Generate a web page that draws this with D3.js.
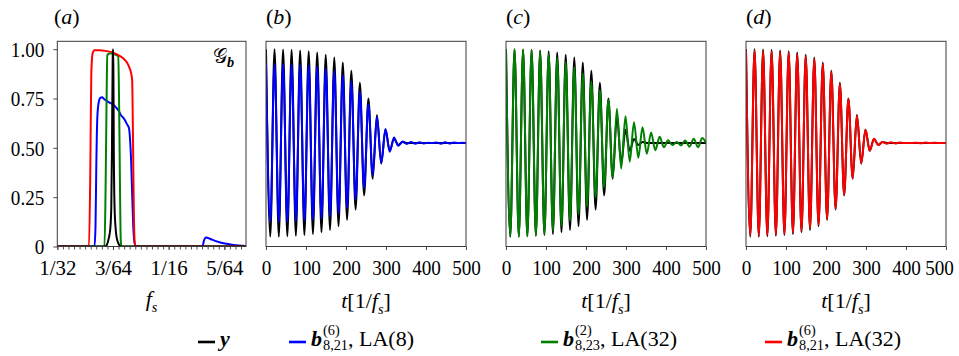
<!DOCTYPE html>
<html><head><meta charset="utf-8">
<script src="https://cdn.jsdelivr.net/npm/d3@7"></script>
<style>
body{margin:0;background:#fff}
svg{display:block}
text{font-family:"Liberation Serif","Times New Roman",serif;fill:#000}
</style>
</head><body>
<svg id="chart" width="959" height="356" font-family="Liberation Serif"></svg>
<script>
// ---------------- DATA ----------------
// Panel (a): spectra G_b vs f_s
const fsTicks = [1/32, 3/64, 1/16, 5/64];
const fsTickLabels = ["1/32", "3/64", "1/16", "5/64"];
const gTicks = [0, 0.25, 0.5, 0.75, 1.0];
const gTickLabels = ["0", "0.25", "0.50", "0.75", "1.00"];

const fRed = [0.03125, 0.04014, 0.04051, 0.04079, 0.04118, 0.04169, 0.04323, 0.04519, 0.04659, 0.04772, 0.04884, 0.04996, 0.05080, 0.05150, 0.05201, 0.05226, 0.05249, 0.05271, 0.05293, 0.05319, 0.0842];
const gRed = [0, 0, 0.38, 0.88, 0.98, 0.995, 0.995, 0.99, 0.985, 0.976, 0.965, 0.95, 0.932, 0.905, 0.875, 0.84, 0.55, 0.2, 0.03, 0, 0];

const fBlue = [0.03125, 0.04169, 0.04197, 0.04219, 0.04247, 0.04286, 0.04337, 0.04379, 0.04435, 0.04519, 0.04603, 0.04688, 0.04772, 0.04856, 0.04912, 0.04968, 0.05024, 0.05080, 0.05136, 0.05164, 0.05193, 0.05229, 0.05257, 0.05291, 0.05333, 0.07198, 0.07240, 0.07296, 0.07353, 0.07465, 0.07633, 0.07829, 0.08026, 0.08222, 0.0842];
const gBlue = [0, 0, 0.1, 0.4, 0.65, 0.73, 0.755, 0.757, 0.748, 0.737, 0.728, 0.72, 0.705, 0.685, 0.665, 0.655, 0.64, 0.62, 0.6, 0.55, 0.45, 0.25, 0.1, 0.02, 0, 0, 0.03, 0.046, 0.043, 0.035, 0.024, 0.015, 0.009, 0.005, 0.003];

const fGreen = [0.03125, 0.04449, 0.04477, 0.04505, 0.04528, 0.04603, 0.04716, 0.04836, 0.04861, 0.04884, 0.04906, 0.04926, 0.0842];
const gGreen = [0, 0, 0.25, 0.7, 0.97, 0.98, 0.975, 0.965, 0.7, 0.3, 0.03, 0, 0];

const fBlack = [0.03125, 0.04463, 0.04519, 0.04567, 0.04612, 0.04640, 0.04659, 0.04679, 0.046875, 0.04699, 0.04710, 0.04732, 0.04758, 0.04786, 0.04842, 0.04912, 0.0842];
const gBlack = [0, 0, 0.01, 0.04, 0.09, 0.2, 0.5, 0.95, 1.0, 0.9, 0.5, 0.2, 0.1, 0.05, 0.015, 0, 0];

// Panels (b)-(d): time series, local extrema
const tTicks = [0, 100, 200, 300, 400, 500];
const tExt = [0, 10.7, 21.3, 32, 42.7, 53.3, 64, 74.7, 85.3, 96, 106.7, 117.3, 128, 138.7, 149.3, 160, 170.7, 181.3, 192, 202.7, 213.3, 224, 234.7, 245.3, 256, 266.7, 277.3, 288, 298.7, 309.3, 320, 330.7, 341.3, 352, 362.7, 373.3, 384, 394.7, 405.3, 416, 426.7, 437.3, 448, 458.7, 469.3, 480, 490.7, 500];
const ySig = [1.0, 0.05, 1.0, 0.05, 0.998, 0.052, 0.997, 0.055, 0.994, 0.058, 0.99, 0.063, 0.983, 0.072, 0.972, 0.084, 0.958, 0.103, 0.933, 0.135, 0.891, 0.187, 0.83, 0.259, 0.75, 0.343, 0.667, 0.42, 0.592, 0.485, 0.545, 0.515, 0.529, 0.525, 0.525, 0.525, 0.525, 0.525, 0.525, 0.525, 0.525, 0.525, 0.525, 0.525, 0.525, 0.525, 0.525, 0.525];
const bLA8 = [0.926, 0.124, 0.926, 0.124, 0.925, 0.125, 0.924, 0.128, 0.921, 0.13, 0.918, 0.135, 0.912, 0.142, 0.903, 0.152, 0.891, 0.168, 0.87, 0.195, 0.836, 0.238, 0.786, 0.296, 0.721, 0.361, 0.657, 0.423, 0.595, 0.48, 0.553, 0.51, 0.532, 0.52, 0.529, 0.521, 0.528, 0.522, 0.526, 0.524, 0.527, 0.521, 0.528, 0.522, 0.527, 0.524, 0.526, 0.525];
const bLA32g = [1.0, 0.05, 1.0, 0.05, 0.998, 0.052, 0.996, 0.056, 0.99, 0.064, 0.978, 0.08, 0.957, 0.105, 0.935, 0.13, 0.91, 0.163, 0.876, 0.203, 0.836, 0.25, 0.792, 0.3, 0.742, 0.35, 0.698, 0.395, 0.66, 0.43, 0.63, 0.45, 0.605, 0.47, 0.578, 0.488, 0.556, 0.503, 0.538, 0.514, 0.53, 0.512, 0.537, 0.506, 0.546, 0.503, 0.55, 0.525];
const bLA32r = [0.993, 0.057, 0.993, 0.057, 0.991, 0.059, 0.99, 0.062, 0.987, 0.065, 0.983, 0.07, 0.976, 0.079, 0.965, 0.091, 0.951, 0.11, 0.927, 0.141, 0.886, 0.192, 0.825, 0.263, 0.747, 0.346, 0.665, 0.422, 0.592, 0.485, 0.546, 0.514, 0.53, 0.521, 0.528, 0.522, 0.527, 0.524, 0.525, 0.525, 0.526, 0.523, 0.527, 0.524, 0.526, 0.525, 0.525, 0.525];

// ---------------- DRAWING ----------------
const svg = d3.select("#chart");
const FS = 22;
const TSX = 0.87; // horizontal compression of tick labels, as in the reference
const SERIF = "Liberation Serif";
const yTop = 41.3, yBot = 246.5;
const y = d3.scaleLinear([0, 1.04], [yBot, yTop]);
const frameColor = "#3a3a3a";

function rich(parent, x, yy, segs, size, anchor, subOff) {
  const g = parent.append("g");
  let cx = 0;
  const so = subOff === undefined ? 0.25 : subOff;
  segs.forEach(s => {
    if (s.sup !== undefined || s.sub !== undefined) {
      let w = 0;
      const ss = size * 0.65;
      if (s.sup !== undefined) {
        const t = g.append("text").attr("x", cx).attr("y", -size * 0.5).attr("font-size", ss)
          .attr("font-family", SERIF).text(s.sup);
        w = Math.max(w, t.node().getComputedTextLength());
      }
      if (s.sub !== undefined) {
        const t = g.append("text").attr("x", cx).attr("y", size * so).attr("font-size", ss)
          .attr("font-style", s.subItalic ? "italic" : null).attr("font-weight", s.subBold ? "bold" : null)
          .attr("font-family", s.subFont || SERIF).text(s.sub);
        w = Math.max(w, t.node().getComputedTextLength());
      }
      cx += w + (s.gap || 0);
    } else {
      const t = g.append("text").attr("x", cx).attr("y", 0).attr("font-size", s.size || size)
        .attr("font-style", s.italic ? "italic" : null).attr("font-weight", s.bold ? "bold" : null)
        .attr("font-family", s.font || SERIF).text(s.t);
      cx += t.node().getComputedTextLength() + (s.gap || 0);
    }
  });
  const x0 = anchor === "middle" ? x - cx / 2 : x;
  g.attr("transform", `translate(${x0},${yy})`);
  return cx;
}

function frame(x0, x1) {
  svg.append("rect").attr("x", x0).attr("y", yTop).attr("width", x1 - x0).attr("height", yBot - yTop)
    .attr("fill", "none").attr("stroke", frameColor).attr("stroke-width", 1);
}

function styleAxis(g) {
  g.attr("font-family", SERIF);
  g.select(".domain").remove();
  g.selectAll(".tick line").attr("stroke", frameColor).attr("stroke-width", 0.9);
  g.selectAll(".tick text").attr("font-family", SERIF).attr("font-size", FS).attr("fill", "#000");
}

// ---- Panel (a)
const xa = d3.scaleLinear([1/32, 0.0842], [57.3, 246]);
svg.append("clipPath").attr("id", "clipA").append("rect").attr("x", 57.3).attr("y", yTop).attr("width", 246 - 57.3).attr("height", yBot - yTop);
const lineA = d3.line().x(d => xa(d[0])).y(d => y(d[1])).curve(d3.curveMonotoneX);
const ga = svg.append("g").attr("clip-path", "url(#clipA)");
[[fBlue, gBlue, "#0000ff"], [fGreen, gGreen, "#008000"], [fRed, gRed, "#ff0000"], [fBlack, gBlack, "#000"]].forEach(([fx, gy, c]) => {
  ga.append("path").datum(d3.zip(fx, gy)).attr("d", lineA).attr("fill", "none").attr("stroke", c).attr("stroke-width", 2);
});
frame(57.3, 246);
const minorA = d3.range(1/32, 0.0842, 1/640);
svg.append("g").attr("transform", `translate(0,${yBot})`)
  .call(d3.axisBottom(xa).tickValues(minorA).tickSize(3).tickFormat("")).call(styleAxis);
const axA = svg.append("g").attr("transform", `translate(0,${yBot})`)
  .call(d3.axisBottom(xa).tickValues(fsTicks).tickSize(3.5).tickFormat((d, i) => fsTickLabels[i]))
  .call(styleAxis);
axA.selectAll(".tick text").attr("y", 13).attr("dy", "0.71em").attr("transform", "scale(0.95,1)");
const ayA = svg.append("g").attr("transform", `translate(57.3,0)`)
  .call(d3.axisLeft(y).tickValues(gTicks).tickSize(4).tickFormat((d, i) => gTickLabels[i]))
  .call(styleAxis);
ayA.selectAll(".tick text").attr("x", -13 / TSX).attr("dy", "0.33em").attr("transform", `scale(${TSX},1)`);

rich(svg, 213, 63, [{t: "\u{1D4A2}", font: "DejaVu Sans", size: 20}, {sub: "b", subItalic: true, subBold: true}], FS, "start", 0.2);

// ---- Panels (b)-(d)
const panels = [
  {x0: 266, x1: 466, label: "b", data: bLA8, color: "#0000ff"},
  {x0: 506, x1: 706, label: "c", data: bLA32g, color: "#008000"},
  {x0: 746, x1: 946, label: "d", data: bLA32r, color: "#ff0000"}
];
panels.forEach((p, i) => {
  const xt = d3.scaleLinear([0, 500], [p.x0, p.x1]);
  const cp = "clipT" + i;
  svg.append("clipPath").attr("id", cp).append("rect").attr("x", p.x0).attr("y", yTop).attr("width", p.x1 - p.x0).attr("height", yBot - yTop);
  const ln = d3.line().x(d => xt(d[0])).y(d => y(d[1])).curve(d3.curveMonotoneX);
  const g = svg.append("g").attr("clip-path", `url(#${cp})`);
  g.append("path").datum(d3.zip(tExt, ySig)).attr("d", ln).attr("fill", "none").attr("stroke", "#000").attr("stroke-width", 2);
  g.append("path").datum(d3.zip(tExt, p.data)).attr("d", ln).attr("fill", "none").attr("stroke", p.color).attr("stroke-width", 2);
  frame(p.x0, p.x1);
  const ax = svg.append("g").attr("transform", `translate(0,${yBot})`)
    .call(d3.axisBottom(xt).tickValues(tTicks).tickSize(3.5).tickFormat(d3.format("d")))
    .call(styleAxis);
  ax.selectAll(".tick text").attr("y", 13).attr("dy", "0.71em").attr("transform", `scale(${TSX},1)`);
  if (i === panels.length - 1) {
    // last label kept inside the picture, as in the reference
    ax.selectAll(".tick text").filter(d => d === 500).attr("x", -7 / TSX);
  }
  rich(svg, p.x0, 24, [{t: "("}, {t: p.label, italic: true}, {t: ")"}], FS, "start");
  rich(svg, (p.x0 + p.x1) / 2, 308, [{t: "t", italic: true}, {t: "[1/"}, {t: "f", italic: true}, {sub: "s", subItalic: true}, {t: "]"}], FS, "middle");
});
rich(svg, 54, 24, [{t: "("}, {t: "a", italic: true}, {t: ")"}], FS, "start");
rich(svg, 151.6, 306, [{t: "f", italic: true}, {sub: "s", subItalic: true}], FS, "middle");

// ---- Legend
const legY = 342;
const legItems = [
  {x: 198, color: "#000", segs: [{t: "y", italic: true, bold: true}]},
  {x: 289, color: "#0000ff", segs: [{t: "b", italic: true, bold: true, gap: 1}, {sup: "(6)", sub: "8,21"}, {t: ", LA(8)"}]},
  {x: 541, color: "#008000", segs: [{t: "b", italic: true, bold: true, gap: 1}, {sup: "(2)", sub: "8,23"}, {t: ", LA(32)"}]},
  {x: 765, color: "#ff0000", segs: [{t: "b", italic: true, bold: true, gap: 1}, {sup: "(6)", sub: "8,21"}, {t: ", LA(32)"}]}
];
legItems.forEach(it => {
  svg.append("line").attr("x1", it.x).attr("x2", it.x + 17).attr("y1", legY).attr("y2", legY)
    .attr("stroke", it.color).attr("stroke-width", 2.6);
  rich(svg, it.x + 22, 345.5, it.segs, FS, "start", 0.22);
});
</script>
</body></html>
